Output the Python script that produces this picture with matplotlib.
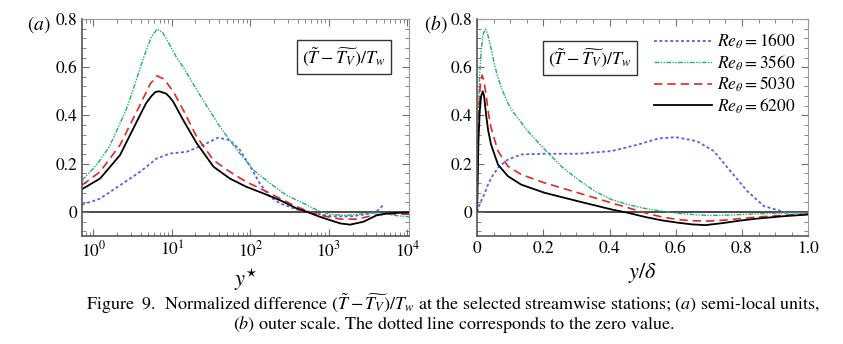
import numpy as np
import matplotlib.pyplot as plt
from matplotlib.ticker import MultipleLocator, LogLocator, NullFormatter

plt.rcParams['font.family'] = ['STIXGeneral', 'DejaVu Serif']
plt.rcParams['mathtext.fontset'] = 'stix'

labels = [r'$Re_\theta = 1600$', r'$Re_\theta = 3560$', r'$Re_\theta = 5030$', r'$Re_\theta = 6200$']

# (a) semi-local units, y*
ys_1600 = [0.72, 1.0, 1.22, 2.19, 3.94, 6.4, 9.5, 15.5, 25, 39, 55, 74, 100, 132, 178, 240, 390, 575, 776, 1050, 1860, 3000, 4070, 5000]
dT_1600 = [0.030, 0.045, 0.055, 0.110, 0.166, 0.221, 0.242, 0.249, 0.277, 0.308, 0.297, 0.256, 0.187, 0.118, 0.062, 0.035, 0.010, 0.0, -0.010, -0.018, -0.019, -0.010, 0.003, 0.030]

ys_3560 = [0.72, 1.0, 1.22, 1.6, 2.0, 2.6, 3.2, 4.4, 5.5, 6.5, 7.6, 9.5, 11.5, 14, 18, 25, 41, 68, 110, 178, 288, 479, 708, 1050, 1700, 3000, 4470, 6600, 10500]
dT_3560 = [0.131, 0.180, 0.214, 0.270, 0.338, 0.420, 0.504, 0.642, 0.725, 0.758, 0.745, 0.690, 0.640, 0.600, 0.540, 0.463, 0.353, 0.256, 0.173, 0.118, 0.069, 0.035, 0.007, -0.011, -0.014, -0.007, -0.004, -0.014, -0.021]

ys_5030 = [0.72, 1.22, 2.19, 3.94, 5.3, 6.5, 8.0, 10.5, 14, 20.8, 34, 55, 89, 148, 240, 390, 575, 776, 1400, 2300, 3700, 6000, 10500]
dT_5030 = [0.111, 0.166, 0.277, 0.443, 0.530, 0.564, 0.550, 0.498, 0.422, 0.311, 0.214, 0.166, 0.124, 0.090, 0.055, 0.021, 0.0, -0.014, -0.030, -0.030, -0.014, -0.008, -0.010]

ys_6200 = [0.72, 1.22, 2.19, 3.94, 4.7, 5.5, 6.2, 6.9, 8.5, 9.5, 10.5, 14, 20.8, 34, 55, 89, 148, 240, 390, 525, 776, 1400, 1860, 2750, 4070, 5500, 7900, 10500]
dT_6200 = [0.094, 0.138, 0.235, 0.401, 0.450, 0.480, 0.497, 0.500, 0.490, 0.474, 0.455, 0.380, 0.284, 0.187, 0.138, 0.104, 0.076, 0.048, 0.014, 0.0, -0.021, -0.048, -0.053, -0.041, -0.014, -0.007, -0.004, -0.003]

# (b) outer scale, y/delta
yd_1600 = [0.0, 0.005, 0.012, 0.022, 0.032, 0.042, 0.063, 0.093, 0.133, 0.204, 0.305, 0.406, 0.486, 0.547, 0.600, 0.664, 0.715, 0.765, 0.816, 0.866, 0.926, 1.0]
dTo_1600 = [0.0, 0.020, 0.045, 0.075, 0.110, 0.140, 0.183, 0.217, 0.238, 0.241, 0.241, 0.252, 0.279, 0.304, 0.310, 0.293, 0.252, 0.169, 0.086, 0.024, 0.0, -0.005]

yd_3560 = [0.0, 0.001, 0.004, 0.008, 0.013, 0.019, 0.025, 0.031, 0.040, 0.050, 0.060, 0.073, 0.091, 0.103, 0.153, 0.204, 0.254, 0.305, 0.355, 0.406, 0.456, 0.507, 0.557, 0.607, 0.65, 0.70, 0.764, 0.845, 0.926, 1.0]
dTo_3560 = [0.0, 0.13, 0.40, 0.58, 0.68, 0.74, 0.758, 0.74, 0.69, 0.625, 0.57, 0.515, 0.456, 0.425, 0.335, 0.259, 0.189, 0.134, 0.086, 0.051, 0.030, 0.014, 0.003, -0.006, -0.011, -0.015, -0.013, -0.008, -0.005, -0.004]

yd_5030 = [0.0, 0.001, 0.004, 0.009, 0.015, 0.020, 0.027, 0.034, 0.042, 0.063, 0.093, 0.133, 0.204, 0.305, 0.406, 0.456, 0.507, 0.557, 0.607, 0.65, 0.70, 0.75, 0.80, 0.85, 0.926, 1.0]
dTo_5030 = [0.0, 0.11, 0.36, 0.52, 0.567, 0.545, 0.487, 0.41, 0.349, 0.252, 0.189, 0.155, 0.120, 0.079, 0.037, 0.017, -0.004, -0.021, -0.032, -0.037, -0.038, -0.034, -0.027, -0.021, -0.014, -0.010]

yd_6200 = [0.0, 0.001, 0.004, 0.008, 0.012, 0.017, 0.021, 0.027, 0.033, 0.042, 0.063, 0.093, 0.133, 0.204, 0.305, 0.406, 0.456, 0.507, 0.557, 0.607, 0.65, 0.69, 0.745, 0.795, 0.845, 0.926, 1.0]
dTo_6200 = [0.0, 0.09, 0.30, 0.42, 0.48, 0.50, 0.48, 0.404, 0.34, 0.279, 0.196, 0.148, 0.113, 0.079, 0.044, 0.010, -0.004, -0.021, -0.035, -0.045, -0.052, -0.055, -0.046, -0.036, -0.028, -0.018, -0.011]

styles = [
    dict(color='#5a5cf5', ls=(0, (1.6, 1.4)), lw=1.3),
    dict(color='#22b070', ls=(0, (3.5, 1, 1, 1, 1, 1)), lw=1.0),
    dict(color='#e02828', ls=(0, (5, 3)), lw=1.2),
    dict(color='black', ls='-', lw=1.3),
]

fig = plt.figure(figsize=(8.43, 3.44), dpi=100)
axa = fig.add_axes([0.0973, 0.314, 0.388, 0.631])
axb = fig.add_axes([0.566, 0.314, 0.3927, 0.631])

series_a = [(ys_1600, dT_1600), (ys_3560, dT_3560), (ys_5030, dT_5030), (ys_6200, dT_6200)]
series_b = [(yd_1600, dTo_1600), (yd_3560, dTo_3560), (yd_5030, dTo_5030), (yd_6200, dTo_6200)]
box_pos = [(0.80, 0.825), (0.34, 0.82)]

for ax, series, pos in [(axa, series_a, box_pos[0]), (axb, series_b, box_pos[1])]:
    ax.axhline(0, color='#4a4a4a', lw=1.4, zorder=1)
    for (x, y), st, lab in zip(series, styles, labels):
        ax.plot(x, y, label=lab, zorder=2, **st)
    ax.set_ylim(-0.1, 0.8)
    ax.yaxis.set_minor_locator(MultipleLocator(0.04))
    ax.set_yticks([0, 0.2, 0.4, 0.6, 0.8])
    ax.set_yticklabels(['0', '0.2', '0.4', '0.6', '0.8'])
    ax.tick_params(which='both', direction='in', top=True, right=True,
                   colors='#707070', labelcolor='black', labelsize=12.5)
    ax.tick_params(which='major', length=5, width=0.8)
    ax.tick_params(which='minor', length=2.8, width=0.6)
    for side in ['top', 'right']:
        ax.spines[side].set_color('#9a9a9a')
        ax.spines[side].set_linewidth(0.8)
    for side in ['left', 'bottom']:
        ax.spines[side].set_color('#555555')
        ax.spines[side].set_linewidth(1.2)
    ax.text(pos[0], pos[1], r'$(\tilde{T}-\widetilde{T_V})/T_w$', fontsize=13,
            transform=ax.transAxes, ha='center', va='center',
            bbox=dict(boxstyle='square,pad=0.3', fc='white', ec='#333333', lw=1.0))

axa.set_xscale('log')
axa.set_xlim(0.72, 1.05e4)
axa.xaxis.set_major_locator(LogLocator(base=10, numticks=10))
axa.xaxis.set_minor_locator(LogLocator(base=10, subs=np.arange(2, 10), numticks=20))
axa.xaxis.set_minor_formatter(NullFormatter())
axa.set_xlabel(r'$y^{\star}$', fontsize=16, labelpad=4)

axb.set_xlim(0, 1.0)
axb.xaxis.set_minor_locator(MultipleLocator(0.05))
axb.set_xticks([0, 0.2, 0.4, 0.6, 0.8, 1.0])
axb.set_xticklabels(['0', '0.2', '0.4', '0.6', '0.8', '1.0'])
axb.set_xlabel(r'$y/\delta$', fontsize=16, labelpad=3)

axb.legend(loc='upper right', frameon=False, fontsize=12.5, handlelength=3.3,
           labelspacing=0.12, borderaxespad=0.35, handletextpad=0.3)

fig.text(0.046, 0.93, r'$(a)$', fontsize=14, ha='center', va='center')
fig.text(0.517, 0.93, r'$(b)$', fontsize=14, ha='center', va='center')

fig.text(0.538, 0.117, r'Figure  9.  Normalized difference $(\tilde{T}-\widetilde{T_V})/T_w$ at the selected streamwise stations; $(a)$ semi-local units,',
         fontsize=13, ha='center', va='center')
fig.text(0.538, 0.057, r'$(b)$ outer scale. The dotted line corresponds to the zero value.',
         fontsize=13, ha='center', va='center')

fig.savefig('out.png', dpi=100)
